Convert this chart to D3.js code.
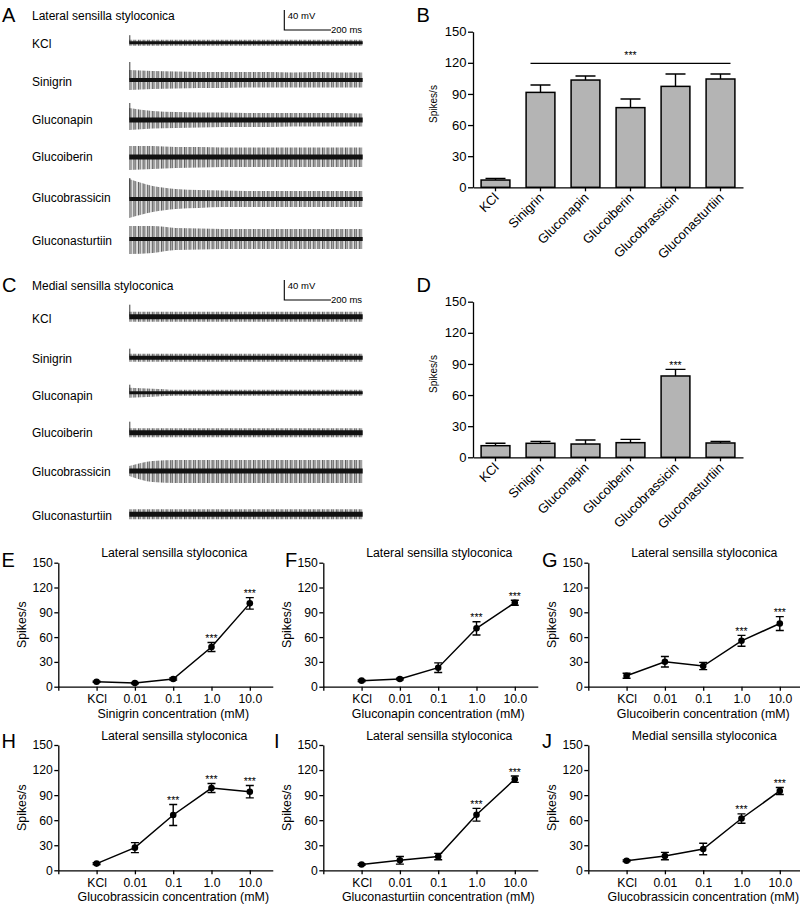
<!DOCTYPE html>
<html><head><meta charset="utf-8">
<script src="https://cdn.jsdelivr.net/npm/d3@7"></script>
<style>
body{margin:0;background:#fff}
svg{display:block}
text{font-family:"Liberation Sans",Arial,sans-serif;fill:#000}
</style>
</head><body>
<svg id="fig" width="800" height="905"></svg>
<script>
// ---------------- DATA ----------------
const compounds = ["KCl","Sinigrin","Gluconapin","Glucoiberin","Glucobrassicin","Gluconasturtiin"];
const yTicks = [0,30,60,90,120,150];
const concLabels = ["KCl","0.01","0.1","1.0","10.0"];

// Panel B: lateral sensilla, spikes/s (mean, SEM)
const lateralMeans = [7, 91.5, 103.4, 76.8, 97.3, 104.4];
const lateralSEM   = [1.5, 7.1, 3.9, 8.3, 11.9, 4.8];
// Panel D: medial sensilla
const medialMeans  = [11.2, 13.5, 12.8, 14.1, 78.4, 13.8];
const medialSEM    = [2.3, 1.9, 3.9, 3.2, 6.4, 1.6];
const medialSig    = ["", "", "", "", "***", ""];

// Dose-response panels E-J
const sinigrinMean   = [6, 4.4, 9.3, 48, 100.8];
const sinigrinSEM    = [0.8, 0.8, 1.2, 5.4, 7];
const gluconapinMean = [7.3, 9.3, 23, 70.6, 101.6];
const gluconapinSEM  = [1, 1, 5.8, 8, 3];
const glucoiberinMean= [13.3, 30.2, 25, 55.5, 76.4];
const glucoiberinSEM = [3, 6.4, 4.4, 6.6, 8.4];
const gbLateralMean  = [8, 27.1, 66.2, 98.5, 94.1];
const gbLateralSEM   = [1, 6, 12.6, 5.4, 7.4];
const gnMean         = [7, 12, 16.5, 66.5, 109];
const gnSEM          = [1, 4.6, 3.8, 7.6, 3.8];
const gbMedialMean   = [11.5, 17, 25.5, 62, 95];
const gbMedialSEM    = [1, 4.4, 6.8, 5.6, 4.2];

// Recording traces: envelope (mV) sampled every 100 ms
const traceTimes = [0,100,200,300,400,500,600,700,800,900,1000];
const lateralUpper = [
  [6,6,6,6,6,6,6,6,6,6,6],
  [20,18,17,16,16,16,16,15,16,15,15],
  [24,18,16,15,15,14,14,14,14,14,13],
  [22,22,20,20,19,19,19,19,19,19,19],
  [40,26,20,18,17,16,16,16,16,16,16],
  [26,26,22,21,20,20,20,20,20,20,20]];
const lateralLower = [
  [-6,-6,-6,-6,-6,-6,-6,-6,-6,-6,-6],
  [-20,-18,-17,-16,-16,-15,-15,-15,-15,-15,-15],
  [-20,-17,-16,-15,-14,-14,-14,-13,-13,-13,-13],
  [-26,-24,-22,-21,-20,-20,-20,-20,-20,-20,-20],
  [-38,-26,-20,-18,-16,-16,-16,-16,-16,-16,-16],
  [-30,-28,-22,-21,-20,-20,-20,-20,-20,-20,-20]];
const lateralCore  = [3,4,5,5,4,4];
const lateralOnset = [15,36,34,0,42,0];

const medialUpper = [
  [10,10,10,10,10,10,10,10,10,10,10],
  [8,8,8,8,8,8,8,8,8,8,8],
  [10,8,6,6,6,6,6,6,6,6,6],
  [9,9,9,9,9,9,9,9,9,9,9],
  [10,20,22,22,22,22,22,22,22,22,22],
  [10,10,10,10,10,10,10,10,10,10,10]];
const medialLower = [
  [-10,-10,-10,-10,-10,-10,-10,-10,-10,-10,-10],
  [-8,-8,-8,-8,-8,-8,-8,-8,-8,-8,-8],
  [-10,-8,-6,-6,-6,-6,-6,-6,-6,-6,-6],
  [-9,-9,-9,-9,-9,-9,-9,-9,-9,-9,-9],
  [-10,-22,-24,-24,-24,-24,-24,-24,-24,-24,-24],
  [-10,-10,-10,-10,-10,-10,-10,-10,-10,-10,-10]];
const medialCore  = [5,4,3,5,5,5];
const medialOnset = [24,18,16,22,0,0];

// ---------------- DRAWING ----------------
const FONT = '"Liberation Sans",Arial,sans-serif';
const svg = d3.select("#fig");
svg.append("rect").attr("width",800).attr("height",905).attr("fill","#fff");
const defs = svg.append("defs");
// texture for dense spike trains (style only)
const pat = defs.append("pattern").attr("id","spk").attr("patternUnits","userSpaceOnUse")
  .attr("width",4.6).attr("height",10);
[[0,"#2a2a2a",0.7],[1.1,"#8a8a8a",0.6],[2.1,"#454545",0.7],[3.4,"#a0a0a0",0.6]].forEach(([px,col,w])=>{
  pat.append("rect").attr("x",px).attr("width",w).attr("height",10).attr("fill",col);
});

function letter(t, x, y){
  svg.append("text").attr("x",x).attr("y",y).attr("font-size",20).text(t);
}

// ---- Trace panels (A, C) ----
function tracePanel(opts){
  const g = svg.append("g");
  letter(opts.letter, 2, opts.top + 22);
  g.append("text").attr("x",32).attr("y",opts.top+19.5).attr("font-size",12).text(opts.title);
  const xt = d3.scaleLinear().domain([0,1000]).range([129.3, 362.7]);
  const sbTop = opts.top + 10;
  const mv = d3.scaleLinear().domain([0,40]).range([sbTop+20, sbTop]);
  const sbx0 = 284.3, sbx1 = sbx0 + (xt(200)-xt(0));
  g.append("path").attr("d",`M${sbx0},${mv(40)}V${mv(0)}H${sbx1}`)
    .attr("fill","none").attr("stroke","#000").attr("stroke-width",1.1);
  g.append("text").attr("x",sbx0+3.5).attr("y",mv(40)+8.5).attr("font-size",9.5).text("40 mV");
  g.append("text").attr("x",sbx1).attr("y",mv(0)+3.4).attr("font-size",9.5).text("200 ms");

  compounds.forEach((c,i)=>{
    const cy = opts.centers[i];
    const yv = d3.scaleLinear().domain([-40,40]).range([cy+20, cy-20]);
    g.append("text").attr("x",32).attr("y",opts.labelY[i]).attr("font-size",12).text(c);
    const pts = traceTimes.map((t,k)=>({t, u:opts.upper[i][k], l:opts.lower[i][k]}));
    const area = d3.area().x(d=>xt(d.t)).y0(d=>yv(d.l)).y1(d=>yv(d.u)).curve(d3.curveMonotoneX);
    g.append("path").attr("d",area(pts)).attr("fill","url(#spk)");
    const core = opts.core[i];
    g.append("path").attr("d",d3.area().x(d=>xt(d.t)).y0(yv(-core)).y1(yv(core))(pts))
      .attr("fill","#111");
    if(opts.onset[i] > 0){
      g.append("line").attr("x1",xt(0)+0.5).attr("x2",xt(0)+0.5)
        .attr("y1",yv(0)).attr("y2",yv(opts.onset[i]))
        .attr("stroke","#222").attr("stroke-width",0.9);
    }
  });
}
tracePanel({letter:"A", top:0, title:"Lateral sensilla styloconica",
  centers:[42.7,80,120,157,199,239], labelY:[47.8,86.2,123.5,161.2,201.8,244.5],
  upper:lateralUpper, lower:lateralLower, core:lateralCore, onset:lateralOnset});
tracePanel({letter:"C", top:270, title:"Medial sensilla styloconica",
  centers:[316.7,357.7,392.7,432.7,471,514.3], labelY:[322.5,362.5,399.5,436.5,476.2,520.2],
  upper:medialUpper, lower:medialLower, core:medialCore, onset:medialOnset});

// ---- Bar panels (B, D) ----
function barPanel(opts){
  const g = svg.append("g");
  letter(opts.letter, 416.5, opts.top + 22);
  const y = d3.scaleLinear().domain([0,150]).range([opts.top+187.3, opts.top+31.7]);
  const x = d3.scaleBand().domain(compounds).range([473,743]).paddingInner(0.36).paddingOuter(0.18);
  const ya = g.append("g").attr("transform","translate(473,0)")
    .call(d3.axisLeft(y).tickValues(yTicks).tickSize(5).tickSizeOuter(0).tickPadding(1.5));
  const xa = g.append("g").attr("transform",`translate(0,${y(0)})`)
    .call(d3.axisBottom(x).tickSize(4).tickSizeOuter(0));
  [ya,xa].forEach(a=>{a.selectAll("path,line").attr("stroke","#000").attr("stroke-width",1.3);
    a.selectAll("text").attr("font-size",13).attr("font-family",FONT).attr("fill","#000");});
  xa.selectAll("text").attr("y",null).attr("dy",null).attr("x",null)
    .attr("transform","translate(4,11) rotate(-45)").style("text-anchor","end");
  g.append("text").attr("transform",`translate(433.5,${opts.top+104}) rotate(-90)`)
    .attr("dy","0.35em").attr("text-anchor","middle").attr("font-size",10).text("Spikes/s");
  const data = compounds.map((c,i)=>({c, m:opts.means[i], e:opts.sem[i]}));
  const hw = 10;
  data.forEach(d=>{
    const cx = x(d.c)+x.bandwidth()/2;
    g.append("path").attr("d",`M${cx},${y(d.m)}V${y(d.m+d.e)}M${cx-hw},${y(d.m+d.e)}H${cx+hw}`)
      .attr("stroke","#000").attr("stroke-width",1.4).attr("fill","none");
  });
  g.selectAll("rect.bar").data(data).enter().append("rect")
    .attr("x",d=>x(d.c)).attr("width",x.bandwidth())
    .attr("y",d=>y(d.m)).attr("height",d=>y(0)-y(d.m))
    .attr("fill","#b4b4b4").attr("stroke","#000").attr("stroke-width",1.5);
  return {g,x,y,data};
}
const pB = barPanel({letter:"B", top:0, means:lateralMeans, sem:lateralSEM});
{
  const {g,x,y} = pB;
  const x0 = x("Sinigrin")+x.bandwidth()/2-10, x1 = x("Gluconasturtiin")+x.bandwidth()/2+10;
  g.append("line").attr("x1",x0).attr("x2",x1).attr("y1",y(119.5)).attr("y2",y(119.5))
    .attr("stroke","#000").attr("stroke-width",1.3);
  g.append("text").attr("x",(x0+x1)/2).attr("y",y(119.5)-4).attr("text-anchor","middle")
    .attr("font-size",10.5).text("***");
}
const pD = barPanel({letter:"D", top:270, means:medialMeans, sem:medialSEM});
{
  const {g,x,y,data} = pD;
  data.forEach((d,i)=>{ if(medialSig[i]) g.append("text")
    .attr("x",x(d.c)+x.bandwidth()/2).attr("y",y(d.m+d.e)-0.5)
    .attr("text-anchor","middle").attr("font-size",10.5).text(medialSig[i]); });
}

// ---- Dose-response panels (E-J) ----
function dosePanel(o){
  const g = svg.append("g");
  letter(o.letter, o.lx, o.y150 + (o.row===0?4.3:3));
  const y = d3.scaleLinear().domain([0,150]).range([o.y0, o.y150]);
  const step = 38.3;
  const x = d3.scaleLinear().domain([-1, 4.6]).range([o.ax, o.ax + 5.6*step]);
  const ya = g.append("g").attr("transform",`translate(${o.ax},0)`)
    .call(d3.axisLeft(y).tickValues(yTicks).tickSize(4).tickSizeOuter(0).tickPadding(1.5));
  const xa = g.append("g").attr("transform",`translate(0,${o.y0})`)
    .call(d3.axisBottom(x).tickValues([-1,0,1,2,3,4]).tickFormat(i=> i<0?"":concLabels[i])
      .tickSize(4).tickSizeOuter(0).tickPadding(4));
  [ya,xa].forEach(a=>{a.selectAll("path,line").attr("stroke","#000").attr("stroke-width",1.3);
    a.selectAll("text").attr("font-size",12.2).attr("font-family",FONT).attr("fill","#000");});
  g.append("text").attr("x",o.ax+116).attr("y",o.y150-5.5).attr("text-anchor","middle")
    .attr("font-size",12.3).text(o.title);
  g.append("text").attr("x",o.ax+115).attr("y",o.y0+31).attr("text-anchor","middle")
    .attr("font-size",12.4).text(o.xlabel);
  g.append("text").attr("transform",`translate(${o.ax-36.6},${(o.y0+o.y150)/2}) rotate(-90)`)
    .attr("dy","0.35em").attr("text-anchor","middle").attr("font-size",12.3).text("Spikes/s");
  const pts = o.mean.map((m,i)=>({i,m,e:o.sem[i]}));
  g.append("path").attr("d",d3.line().x(d=>x(d.i)).y(d=>y(d.m))(pts))
    .attr("fill","none").attr("stroke","#000").attr("stroke-width",1.5);
  pts.forEach(d=>{
    const cx = x(d.i);
    g.append("path").attr("d",`M${cx},${y(d.m-d.e)}V${y(d.m+d.e)}M${cx-4},${y(d.m+d.e)}H${cx+4}M${cx-4},${y(d.m-d.e)}H${cx+4}`)
      .attr("stroke","#000").attr("stroke-width",1.4).attr("fill","none");
  });
  g.selectAll("circle").data(pts).enter().append("circle")
    .attr("cx",d=>x(d.i)).attr("cy",d=>y(d.m)).attr("r",3.3).attr("fill","#000");
  o.stars.forEach(i=>{
    g.append("text").attr("x",x(i)).attr("y",y(pts[i].m+pts[i].e)-0.5)
      .attr("text-anchor","middle").attr("font-size",10.5).attr("fill","#000").text("***");
  });
}
const rowTop = {y0:686.7, y150:562.7}, rowBot = {y0:870.3, y150:745};
dosePanel({letter:"E", lx:1.5, ax:58.3, row:0, ...rowTop, title:"Lateral sensilla styloconica",
  xlabel:"Sinigrin concentration (mM)", mean:sinigrinMean, sem:sinigrinSEM, stars:[3,4]});
dosePanel({letter:"F", lx:285, ax:323.3, row:0, ...rowTop, title:"Lateral sensilla styloconica",
  xlabel:"Gluconapin concentration (mM)", mean:gluconapinMean, sem:gluconapinSEM, stars:[3,4]});
dosePanel({letter:"G", lx:542, ax:588.3, row:0, ...rowTop, title:"Lateral sensilla styloconica",
  xlabel:"Glucoiberin concentration (mM)", mean:glucoiberinMean, sem:glucoiberinSEM, stars:[3,4]});
dosePanel({letter:"H", lx:1.5, ax:58.3, row:1, ...rowBot, title:"Lateral sensilla styloconica",
  xlabel:"Glucobrassicin concentration (mM)", mean:gbLateralMean, sem:gbLateralSEM, stars:[2,3,4]});
dosePanel({letter:"I", lx:274, ax:323.3, row:1, ...rowBot, title:"Lateral sensilla styloconica",
  xlabel:"Gluconasturtiin concentration (mM)", mean:gnMean, sem:gnSEM, stars:[3,4]});
dosePanel({letter:"J", lx:542, ax:588.3, row:1, ...rowBot, title:"Medial sensilla styloconica",
  xlabel:"Glucobrassicin concentration (mM)", mean:gbMedialMean, sem:gbMedialSEM, stars:[3,4]});
</script>
</body></html>
